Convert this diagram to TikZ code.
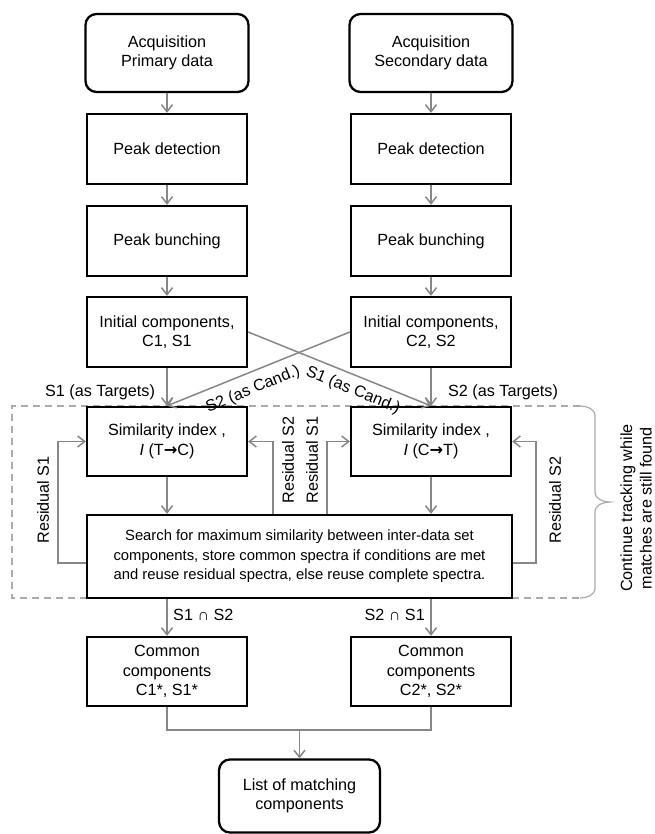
\documentclass[tikz,border=0pt]{standalone}
\usepackage{fontspec}
\setmainfont{Liberation Sans}
\newfontfamily\arrfont{DejaVu Sans}
\usetikzlibrary{arrows.meta}
\definecolor{cgray}{RGB}{135,135,135}
\definecolor{dgray}{RGB}{170,170,170}
\newcommand{\myarr}{{\arrfont\bfseries →}}
\begin{document}
\begin{tikzpicture}[x=1pt,y=-1pt,
  box/.style={draw=black, line width=2.3pt, minimum width=160pt, minimum height=70pt,
    align=center, inner sep=0pt, font=\fontsize{16.2}{19.5}\selectfont},
  rbox/.style={box, rounded corners=11pt, minimum width=163pt, minimum height=78pt},
  conn/.style={draw=cgray, line width=1.5pt, -{Straight Barb[length=7pt,width=11pt]}},
  plain/.style={draw=cgray, line width=1.3pt},
  lbl/.style={inner sep=0pt, font=\fontsize{16.2}{19.5}\selectfont, align=center}]
\useasboundingbox (0,0) rectangle (654,834);

% frame
\draw[dgray, dashed, line width=1.2pt, dash pattern=on 7pt off 5pt] (580,406) -- (12,406) -- (12,598) -- (580,598);
\draw[dgray, line width=1.2pt] (580,406) to[out=0,in=90] (595,416) -- (595,492)
  to[out=-90,in=180] (610,502) to[out=180,in=90] (595,512) -- (595,588) to[out=-90,in=0] (580,598);
\node[lbl, rotate=90] (cont) at (636,508) {Continue tracking while\\matches are still found};

% boxes
\node[rbox] (acq1) at (167,53) {Acquisition\\Primary data};
\node[rbox] (acq2) at (431,53) {Acquisition\\Secondary data};
\node[box] (pd1) at (167,149) {Peak detection};
\node[box] (pd2) at (431,149) {Peak detection};
\node[box] (pb1) at (167,241) {Peak bunching};
\node[box] (pb2) at (431,241) {Peak bunching};
\node[box] (in1) at (167,332) {Initial components,\\C1, S1};
\node[box] (in2) at (431,332) {Initial components,\\C2, S2};
\node[box, minimum height=69pt] (sim1) at (167,441.5) {Similarity index ,\\\textit{I} (T\myarr C)};
\node[box, minimum height=69pt] (sim2) at (431,441.5) {Similarity index ,\\\textit{I} (C\myarr T)};
\node[box, minimum width=425pt, minimum height=83pt, font=\fontsize{14.8}{19.5}\selectfont] (search) at (299.5,556.5)
  {Search for maximum similarity between inter-data set\\components, store common spectra if conditions are met\\and reuse residual spectra, else reuse complete spectra.};
\node[box, minimum height=69pt] (com1) at (167,671.5) {Common\\components\\C1*, S1*};
\node[box, minimum height=69pt] (com2) at (431,671.5) {Common\\components\\C2*, S2*};
\node[rbox, minimum width=161pt, minimum height=73pt] (list) at (299.5,796) {List of matching\\components};

% vertical flow
\draw[conn] (acq1) -- (pd1);
\draw[conn] (acq2) -- (pd2);
\draw[conn] (pd1) -- (pb1);
\draw[conn] (pd2) -- (pb2);
\draw[conn] (pb1) -- (in1);
\draw[conn] (pb2) -- (in2);
\draw[conn] (in1) -- (sim1);
\draw[conn] (in2) -- (sim2);
\draw[conn] (in1.east) -- (sim2.north);
\draw[conn] (in2.west) -- (sim1.north);
\draw[conn] (sim1) -- (sim1 |- search.north);
\draw[conn] (sim2) -- (sim2 |- search.north);

\node[lbl] (t1) at (100,392) {S1 (as Targets)};
\node[lbl] (t2) at (503,392) {S2 (as Targets)};
\node[lbl, rotate=22.2] (c2) at (253,389.5) {S2 (as Cand.)};
\node[lbl, rotate=-22.2] (c1) at (353,390.5) {S1 (as Cand.)};

% residual loops
\coordinate (rl) at (273,0);
\coordinate (rr) at (327,0);
\draw[conn] ([yshift=-6.5pt]search.west) -- ++(-28,0) |- (sim1.west);
\draw[conn] ([yshift=-6.5pt]search.east) -- ++(23,0) |- (sim2.east);
\draw[conn] (search.north -| rl) |- (sim1.east);
\draw[conn] (search.north -| rr) |- (sim2.west);
\node[lbl, rotate=90] (r1) at (43,500) {Residual S1};
\node[lbl, rotate=90] (r2) at (288,460) {Residual S2};
\node[lbl, rotate=90] (r3) at (312,460) {Residual S1};
\node[lbl, rotate=90] (r4) at (555,500) {Residual S2};

% to common
\draw[conn] (search.south -| com1.north) -- (com1.north);
\draw[conn] (search.south -| com2.north) -- (com2.north);
\node[lbl, anchor=west] (i1) at (173,615) {S1 ∩ S2};
\node[lbl, anchor=east] (i2) at (425,615) {S2 ∩ S1};

% join
\coordinate (j) at (299.5,730);
\draw[plain] (com1.south) |- (j) -| (com2.south);
\draw[conn] (j) -- (list.north);
\end{tikzpicture}
\end{document}
